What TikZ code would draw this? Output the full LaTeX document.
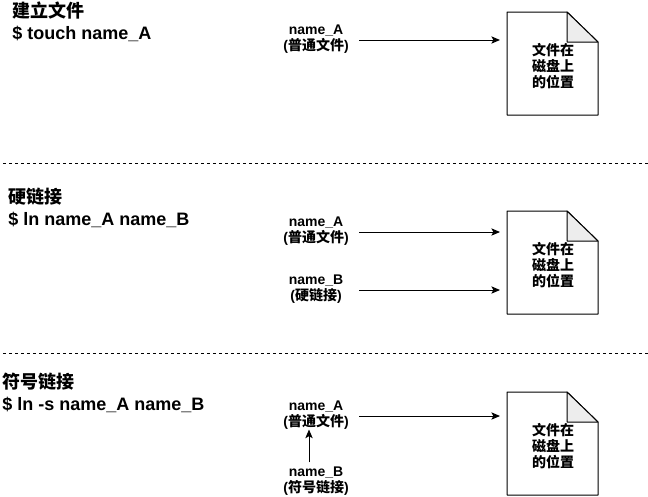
\documentclass[tikz,border=0pt]{standalone}
\usepackage{fontspec}
\setmainfont{Liberation Sans}
\newfontfamily\cjk{Noto Sans CJK SC}
\usetikzlibrary{arrows.meta}
\tikzset{
  x=0.75pt,y=-0.75pt,
  conn/.style={draw=black,line width=0.75pt,-{Stealth[length=6.5pt,width=5.5pt,inset=1.5pt]}},
  across/.style={conn,shorten <=7.1pt,shorten >=5.25pt},
  sep/.style={draw=black,line width=0.75pt,dash pattern=on 2.25pt off 2.25pt},
  heading/.style={inner sep=0pt,anchor=north west,align=left,font=\bfseries\fontsize{13.5}{16}\selectfont},
  label/.style={inner sep=0pt,align=center,minimum width=50.25pt,font=\bfseries\fontsize{10.5}{12}\selectfont},
  doctext/.style={inner sep=0pt,align=center,font=\cjk\bfseries\fontsize{10.5}{12}\selectfont},
  docbox/.style={draw=none,minimum width=68.25pt,minimum height=77.25pt,inner sep=0pt},
}
\newcommand{\zh}[1]{{\cjk #1}}
\newcommand{\docshape}[3]{%
  \node[docbox,anchor=north west] (#1) at (507,#2) {};
  \draw[fill=white,line width=0.75pt,line join=round] (507,#2) -- ++(60,0) -- ++(31,30) -- ++(0,73) -- ++(-91,0) -- cycle;
  \draw[fill=black!7,line width=0.75pt,line join=round] (567,#2) -- ++(31,30) -- ++(-31,0) -- cycle;
  \node[doctext] at (553,#3) {文件在\\磁盘上\\的位置};
}
\begin{document}
\begin{tikzpicture}
\useasboundingbox (0,0) rectangle (648,496);
% section 1
\node[heading] at (12,2) {\zh{建立文件}\\\$ touch name\_A};
\node[label] (a1) at (316,39) {name\_A\\(\zh{普通文件})};
\docshape{d1}{12}{66}
\draw[across] ([yshift=-0.75pt]a1.east) -- ([yshift=-0.75pt]a1.east -| d1.west);
\draw[sep] (3,163.5) -- (648,163.5);
% section 2
\node[heading] at (8,188) {\zh{硬链接}\\\$ ln name\_A name\_B};
\node[label] (a2) at (316,231) {name\_A\\(\zh{普通文件})};
\node[label] (b2) at (316,289) {name\_B\\(\zh{硬链接})};
\docshape{d2}{211}{265}
\draw[across] ([yshift=-0.75pt]a2.east) -- ([yshift=-0.75pt]a2.east -| d2.west);
\draw[across] ([yshift=-0.75pt]b2.east) -- ([yshift=-0.75pt]b2.east -| d2.west);
\draw[sep] (3,353.5) -- (648,353.5);
% section 3
\node[heading] at (2,373) {\zh{符号链接}\\\$ ln -s name\_A name\_B};
\node[label] (a3) at (316,415) {name\_A\\(\zh{普通文件})};
\node[label] (b3) at (316,481) {name\_B\\(\zh{符号链接})};
\docshape{d3}{392}{446}
\draw[across] ([yshift=-0.75pt]a3.east) -- ([yshift=-0.75pt]a3.east -| d3.west);
\draw[conn,shorten <=3pt] ([xshift=-5.25pt]b3.north) -- ([xshift=-5.25pt]a3.south);
\end{tikzpicture}
\end{document}
